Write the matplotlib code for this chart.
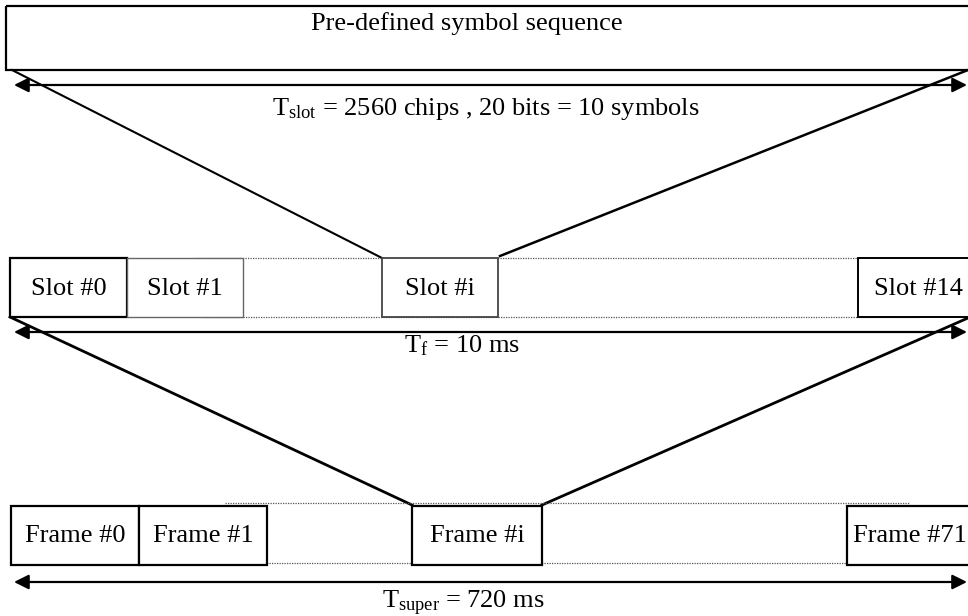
import matplotlib
matplotlib.use("Agg")
import matplotlib.pyplot as plt
from matplotlib.patches import Rectangle

plt.rcParams['font.family'] = ['Liberation Serif', 'DejaVu Serif']
plt.rcParams['mathtext.fontset'] = 'custom'
plt.rcParams['mathtext.rm'] = 'Liberation Serif'
plt.rcParams['mathtext.it'] = 'Liberation Serif:italic'

# ---- content ----
top_label = "Pre-defined symbol sequence"
slot_labels = ["Slot #0", "Slot #1", "Slot #i", "Slot #14"]
frame_labels = ["Frame #0", "Frame #1", "Frame #i", "Frame #71"]
tslot_label = r"$\mathrm{T_{slot}}$ = 2560 chips , 20 bits = 10 symbols"
tf_label = r"$\mathrm{T_{f}}$ = 10 ms"
tsuper_label = r"$\mathrm{T_{super}}$ = 720 ms"

# ---- layout (pixel coordinates) ----
W, H = 968, 616
slot_x = [(10, 127), (127, 243), (382, 498), (858, 980)]
slot_y = (258, 317)
frame_x = [(11, 139), (139, 267), (412, 542), (847, 980)]
frame_y = (506, 565)
FS = 19

fig = plt.figure(figsize=(W / 100, H / 100), dpi=100)
ax = fig.add_axes([0, 0, 1, 1])
ax.set_xlim(0, W)
ax.set_ylim(H, 0)
ax.axis('off')

# top box
ax.add_patch(Rectangle((6, 6), 990, 64, fill=False, lw=1.6, ec='black'))
ax.text(467, 30, top_label, ha='center', va='baseline', fontsize=FS)

def darrow(y, x0=14, x1=967):
    ax.annotate('', xy=(x1, y), xytext=(x0, y),
                arrowprops=dict(arrowstyle='<|-|>', color='black', lw=1.6,
                                mutation_scale=22, shrinkA=0, shrinkB=0))

darrow(85)
ax.text(486, 115, tslot_label, ha='center', va='baseline', fontsize=FS)

# diagonals from top box to Slot #i
ax.plot([12, 382], [70, 258], color='black', lw=1.5)
ax.plot([968, 500], [70, 256], color='black', lw=1.8)

# slot row dotted guides
ax.plot([195, 858], [258, 258], color='#555555', lw=0.9, ls=(0, (1, 1)))
ax.plot([203, 920], [316.5, 316.5], color='#555555', lw=0.9, ls=(0, (1, 1)))

slot_styles = [('black', 1.6), ('#666666', 1.0), ('#444444', 1.3), ('black', 1.4)]
for (x0, x1), lab, (ec, lw) in zip(slot_x, slot_labels, slot_styles):
    ax.add_patch(Rectangle((x0, slot_y[0]), x1 - x0, slot_y[1] - slot_y[0],
                           fill=True, fc='white', ec=ec, lw=lw, zorder=3))
    cx = (x0 + min(x1, 978)) / 2 if x1 < 970 else 918
    ax.text(cx, 295, lab, ha='center', va='baseline', fontsize=FS, zorder=4)

darrow(332)
ax.text(462, 352, tf_label, ha='center', va='baseline', fontsize=FS)

# diagonals from slot row to Frame #i
ax.plot([10, 412], [317, 505], color='black', lw=2.0)
ax.plot([968, 542], [318, 505], color='black', lw=2.0)

# frame row dotted guides
ax.plot([225, 910], [503, 503], color='#555555', lw=0.9, ls=(0, (1, 1)))
ax.plot([214, 870], [563, 563], color='#555555', lw=0.9, ls=(0, (1, 1)))

for (x0, x1), lab in zip(frame_x, frame_labels):
    ax.add_patch(Rectangle((x0, frame_y[0]), x1 - x0, frame_y[1] - frame_y[0],
                           fill=True, fc='white', ec='black', lw=1.6, zorder=3))
    cx = (x0 + x1) / 2 if x1 < 970 else 910
    ax.text(cx, 542, lab, ha='center', va='baseline', fontsize=FS, zorder=4)

darrow(582)
ax.text(463, 608, tsuper_label, ha='center', va='baseline', fontsize=FS)

fig.savefig('out.png', dpi=100)
